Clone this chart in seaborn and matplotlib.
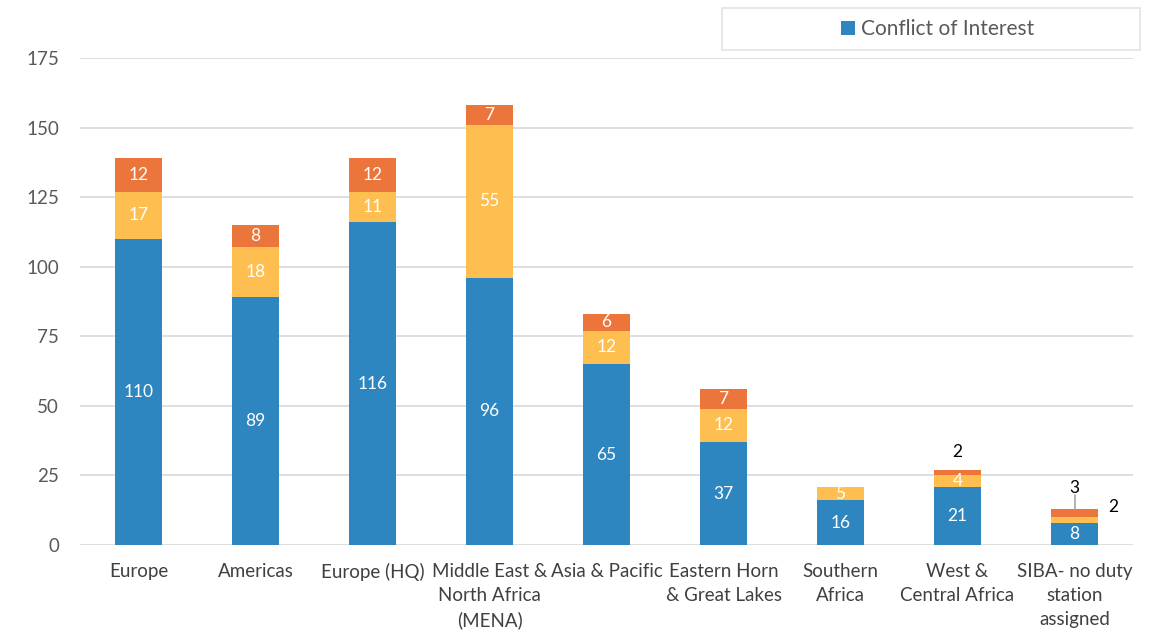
import matplotlib
matplotlib.use("Agg")
import matplotlib.pyplot as plt
from matplotlib.patches import Patch, Rectangle
import seaborn as sns
import pandas as pd
import numpy as np

categories = ["Europe", "Americas", "Europe (HQ)", "Middle East &\nNorth Africa\n(MENA)",
              "Asia & Pacific", "Eastern Horn\n& Great Lakes", "Southern\nAfrica",
              "West &\nCentral Africa", "SIBA- no duty\nstation\nassigned"]
conflict = [110, 89, 116, 96, 65, 37, 16, 21, 8]
second = [17, 18, 11, 55, 12, 12, 5, 4, 2]
third = [12, 8, 12, 7, 6, 7, 0, 2, 3]
yticks = [0, 25, 50, 75, 100, 125, 150, 175]

BLUE = "#2E86C1"
YELLOW = "#FFBE50"
ORANGE = "#EB753B"

sns.set_theme(style="white")
plt.rcParams["font.family"] = ["Lato", "DejaVu Sans"]

df = pd.DataFrame({"cat": categories, "c": conflict, "s": second, "t": third})
df["cs"] = df["c"] + df["s"]
df["tot"] = df["cs"] + df["t"]

fig = plt.figure(figsize=(11.54, 6.32), dpi=100)
ax = fig.add_axes([80 / 1154, 1 - 545 / 632, (1133 - 80) / 1154, (545 - 58) / 632])

for col, color in [("tot", ORANGE), ("cs", YELLOW), ("c", BLUE)]:
    sns.barplot(data=df, x="cat", y=col, color=color, width=0.4, ax=ax,
                saturation=1, linewidth=0, zorder=3, errorbar=None)

ax.set_xlim(-0.5, len(categories) - 0.5)
ax.set_ylim(0, 175)
ax.set_yticks(yticks)
ax.set_yticklabels([str(v) for v in yticks])
ax.grid(axis="y", color="#D9D9D9", linewidth=1.2, zorder=0)
ax.set_axisbelow(True)
for s in ax.spines.values():
    s.set_visible(False)
ax.set_xlabel("")
ax.set_ylabel("")
ax.tick_params(axis="both", length=0, labelsize=13.5, colors="#595959")
ax.tick_params(axis="x", pad=13)
ax.tick_params(axis="y", pad=15)
for lab in ax.get_yticklabels():
    lab.set_color("#595959")
for lab in ax.get_xticklabels():
    lab.set_color("#404040")
    lab.set_linespacing(1.5)

FS = 12.5
n = len(categories)
for i in range(n):
    c, s, t = conflict[i], second[i], third[i]
    small = c + s + t < 30
    ax.text(i, c / 2, str(c), ha="center", va="center", color="white", fontsize=FS, zorder=5)
    if s > 0:
        if i != n - 1:
            ax.text(i, c + s / 2, str(s), ha="center", va="center", color="white", fontsize=FS, zorder=5)
        else:
            ax.text(i + 0.33, c + s + 3.5, str(s), ha="center", va="center", color="black", fontsize=FS, zorder=5)
    if t > 0:
        if not small:
            ax.text(i, c + s + t / 2, str(t), ha="center", va="center", color="white", fontsize=FS, zorder=5)
        elif i == n - 1:
            top = c + s + t
            ax.plot([i, i], [top, top + 5], color="#A6A6A6", linewidth=1.2, zorder=5)
            ax.text(i, top + 7.5, str(t), ha="center", va="center", color="black", fontsize=FS, zorder=5)
        else:
            ax.text(i, c + s + t + 6.5, str(t), ha="center", va="center", color="black", fontsize=FS, zorder=5)

box = Rectangle((722 / 1154, 1 - 50 / 632), (1140 - 722) / 1154, 42 / 632, transform=fig.transFigure,
                facecolor="white", edgecolor="#E3E3E3", linewidth=1.2)
fig.patches.append(box)
fig.legend(handles=[Patch(facecolor=BLUE, edgecolor="none", label="Conflict of Interest")],
           loc="center", bbox_to_anchor=((722 + 1140) / 2 / 1154 + 0.006, 1 - 29 / 632), frameon=False,
           fontsize=15, handlelength=0.65, handleheight=0.65, handletextpad=0.3,
           labelcolor="#595959")

fig.savefig("out.png", dpi=100, facecolor="white")
